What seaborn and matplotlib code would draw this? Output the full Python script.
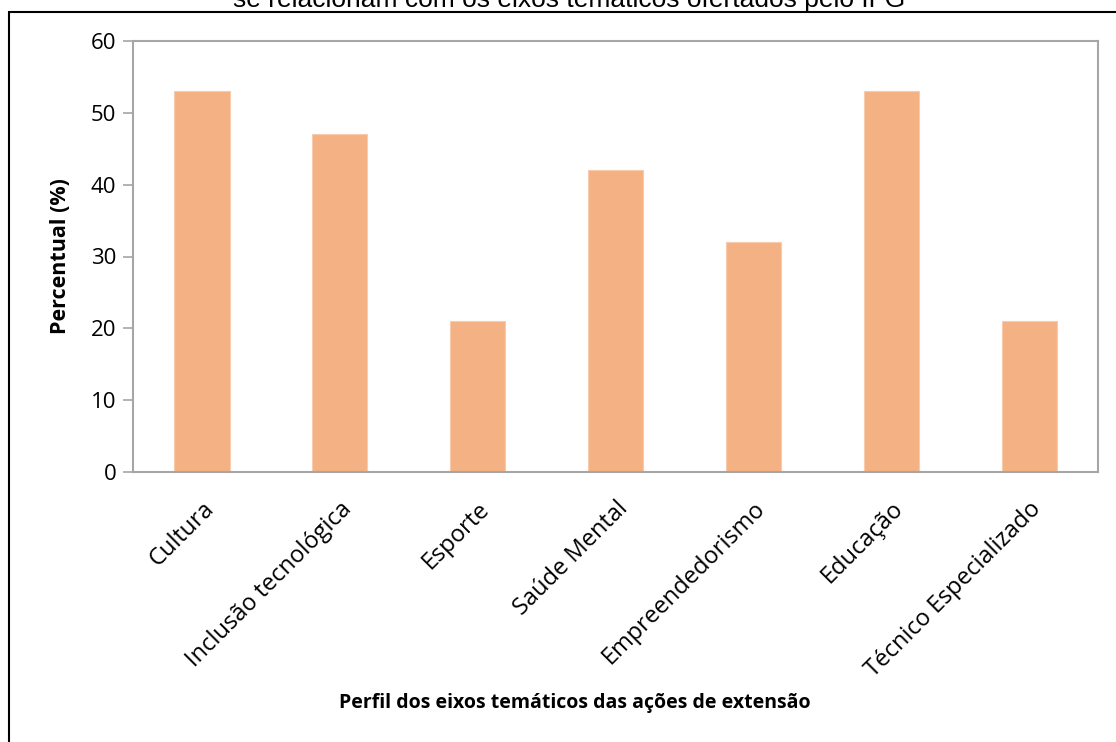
import matplotlib
matplotlib.use("Agg")
import matplotlib.pyplot as plt
import seaborn as sns
from matplotlib.patches import Rectangle

categories = [
    "Cultura",
    "Inclusão tecnológica",
    "Esporte",
    "Saúde Mental",
    "Empreendedorismo",
    "Educação",
    "Técnico Especializado",
]
percentages = [53, 47, 21, 42, 32, 53, 21]
y_ticks = [0, 10, 20, 30, 40, 50, 60]

title_text = "se relacionam com os eixos temáticos ofertados pelo IFG"
x_label = "Perfil dos eixos temáticos das ações de extensão"
y_label = "Percentual (%)"

bar_color = "#F4B183"
axis_gray = "#A6A6A6"

sns.set_theme(style="white")
plt.rcParams["font.family"] = ["Open Sans", "DejaVu Sans"]
plt.rcParams["text.color"] = "black"
plt.rcParams["axes.labelcolor"] = "black"
plt.rcParams["xtick.labelcolor"] = "black"
plt.rcParams["ytick.labelcolor"] = "black"

W, H = 1116, 742
fig = plt.figure(figsize=(W / 100, H / 100), dpi=100)

# plot area in pixel coords of the reference
left, right, top, bottom = 133, 1098, 41, 472
ax = fig.add_axes([left / W, 1 - bottom / H, (right - left) / W, (bottom - top) / H])

sns.barplot(x=categories, y=percentages, color=bar_color, width=0.4,
            saturation=1, edgecolor="#F8CBAD", linewidth=0.8, ax=ax)

ax.set_xlim(-0.5, len(categories) - 0.5)
ax.set_ylim(0, 60)
ax.set_yticks(y_ticks)
ax.set_yticklabels([str(v) for v in y_ticks], fontsize=16)

# category ticks without marks, boundary marks as minor ticks
ax.set_xticks(range(len(categories)))
ax.set_xticks([i - 0.5 for i in range(len(categories) + 1)], minor=True)
ax.set_xticklabels(categories, rotation=45, ha="right", va="top",
                   rotation_mode="anchor", fontsize=17)
ax.tick_params(axis="x", which="major", length=0, pad=18)
ax.tick_params(axis="x", which="minor", length=7, width=1.2, color=axis_gray, direction="out")
ax.tick_params(axis="y", which="major", length=7, width=1.2, color=axis_gray,
               direction="out", pad=5, left=True)

for s in ax.spines.values():
    s.set_visible(True)
    s.set_color(axis_gray)
    s.set_linewidth(1.5)

ax.set_xlabel(x_label, fontsize=14, fontweight="bold")
ax.set_ylabel(y_label, fontsize=15.5, fontweight="bold")
ax.xaxis.set_label_coords((575 - left) / (right - left), -(693 - bottom) / (bottom - top))
ax.yaxis.set_label_coords(-(left - 71) / (right - left), 0.5)

# outer chart frame (runs past the image on the right and bottom)
frame = Rectangle((8.5 / W, -0.2), 1.5, 1.2 - 11.5 / H,
                  transform=fig.transFigure, fill=False, edgecolor="black",
                  linewidth=1.5, clip_on=False)
fig.add_artist(frame)

fig.text(569 / W, 1 - 7 / H, title_text, ha="center", va="baseline",
         fontsize=19, family=["Liberation Sans", "DejaVu Sans"])

fig.savefig("out.png", dpi=100)
